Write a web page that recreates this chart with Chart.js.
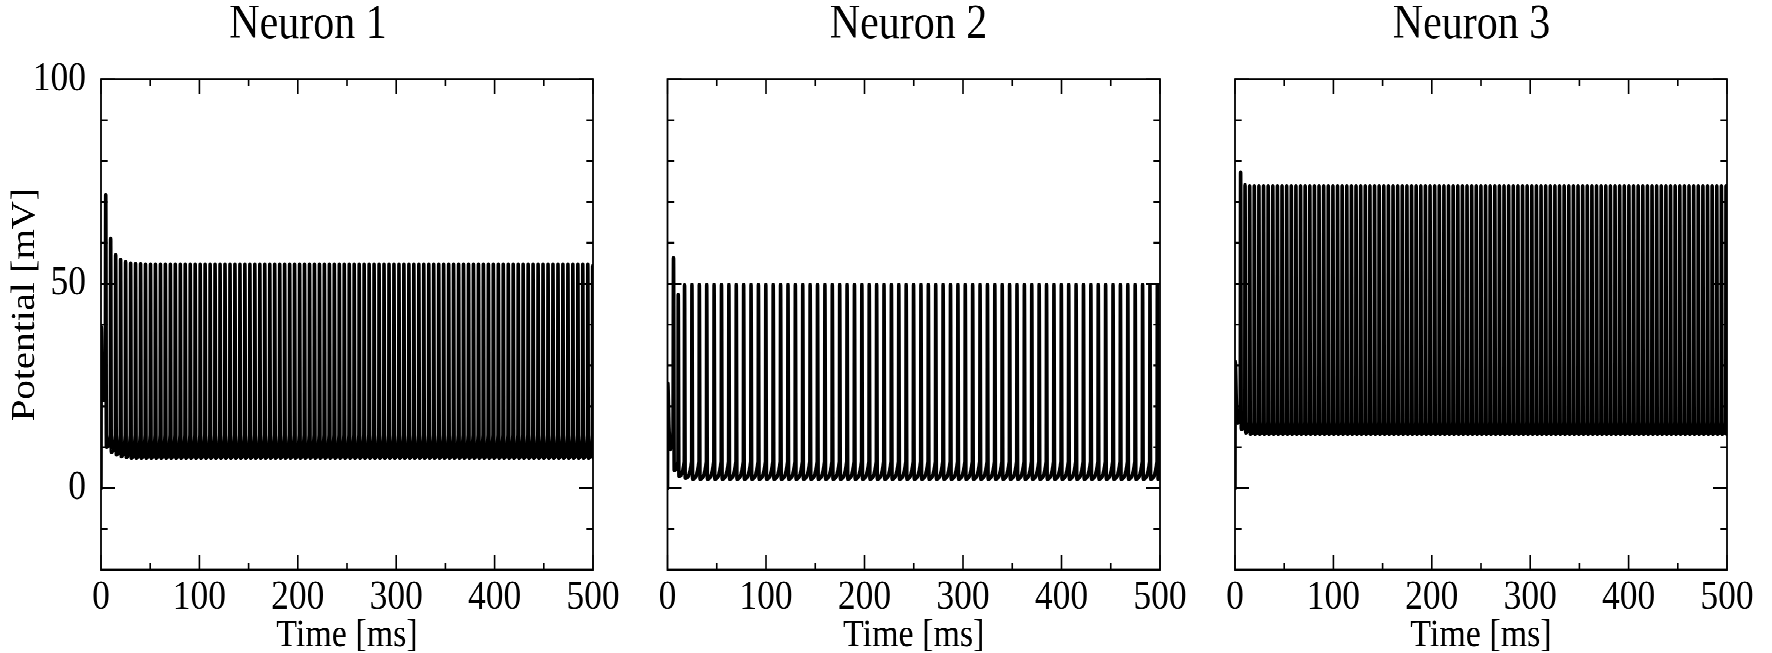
<!DOCTYPE html>
<html>
<head>
<meta charset="utf-8">
<script src="https://cdn.jsdelivr.net/npm/chart.js@4.4.0/dist/chart.umd.min.js"></script>
<style>
  html, body { margin: 0; padding: 0; background: #fff; overflow: hidden; }
  /* the original figure is slightly stretched vertically */
  #stage { position: absolute; left: 0; top: 0; width: 1772px; height: 568px; transform: scaleY(1.1496); transform-origin: 0 0; }
  #stage canvas { position: absolute; top: 0; }
</style>
</head>
<body>
<div id="stage">
  <canvas id="neuron1" width="630" height="568" style="left:0px"></canvas>
  <canvas id="neuron2" width="567" height="568" style="left:630px"></canvas>
  <canvas id="neuron3" width="575" height="568" style="left:1197px"></canvas>
</div>
<script>
// tick labels and minor ticks
const timeTicks = [0, 100, 200, 300, 400, 500];
const timeMinorTicks = [50, 150, 250, 350, 450];
const potentialTicks = [0, 50, 100];
const potentialMinorTicks = [-10, 10, 20, 30, 40, 60, 70, 80, 90];

// Neuron 1: start of trace, then spike times [ms], peaks and troughs [mV]
const n1StartTime = [0, 0.3, 1.2, 2.3, 3.6, 4.4];
const n1StartPotential = [0, 39.4, 26, 21.5, 24, 30];
const n1Times = [
  4.8, 9.8, 14.9, 19.9, 25.0, 30.1, 35.1, 40.2, 45.2, 50.3,
  55.3, 60.4, 65.4, 70.5, 75.5, 80.6, 85.6, 90.7, 95.7, 100.8,
  105.8, 110.9, 115.9, 121.0, 126.0, 131.1, 136.1, 141.2, 146.2, 151.3,
  156.3, 161.4, 166.4, 171.5, 176.5, 181.6, 186.6, 191.7, 196.7, 201.8,
  206.8, 211.9, 216.9, 222.0, 227.0, 232.1, 237.1, 242.2, 247.2, 252.3,
  257.3, 262.4, 267.4, 272.5, 277.5, 282.6, 287.6, 292.7, 297.7, 302.8,
  307.8, 312.9, 317.9, 323.0, 328.0, 333.1, 338.1, 343.2, 348.2, 353.3,
  358.3, 363.4, 368.4, 373.5, 378.5, 383.6, 388.6, 393.7, 398.7, 403.8,
  408.8, 413.9, 418.9, 424.0, 429.0, 434.1, 439.1, 444.2, 449.2, 454.3,
  459.3, 464.4, 469.4, 474.5, 479.5, 484.6, 489.6, 494.7, 499.7
];
const n1Peaks = [
  71.7, 61.0, 57.0, 55.9, 55.3, 55.0, 54.9, 54.8, 54.7, 54.7,
  54.7, 54.7, 54.7, 54.7, 54.7, 54.7, 54.7, 54.7, 54.7, 54.7,
  54.7, 54.7, 54.7, 54.7, 54.7, 54.7, 54.7, 54.7, 54.7, 54.7,
  54.7, 54.7, 54.7, 54.7, 54.7, 54.7, 54.7, 54.7, 54.7, 54.7,
  54.7, 54.7, 54.7, 54.7, 54.7, 54.7, 54.7, 54.7, 54.7, 54.7,
  54.7, 54.7, 54.7, 54.7, 54.7, 54.7, 54.7, 54.7, 54.7, 54.7,
  54.7, 54.7, 54.7, 54.7, 54.7, 54.7, 54.7, 54.7, 54.7, 54.7,
  54.7, 54.7, 54.7, 54.7, 54.7, 54.7, 54.7, 54.7, 54.7, 54.7,
  54.7, 54.7, 54.7, 54.7, 54.7, 54.7, 54.7, 54.7, 54.7, 54.7,
  54.7, 54.7, 54.7, 54.7, 54.7, 54.7, 54.7, 54.7, 54.3
];
const n1Troughs = [
  10.1, 8.9, 8.2, 7.8, 7.6, 7.4, 7.4, 7.4, 7.4, 7.4,
  7.4, 7.4, 7.4, 7.4, 7.4, 7.4, 7.4, 7.4, 7.4, 7.4,
  7.4, 7.4, 7.4, 7.4, 7.4, 7.4, 7.4, 7.4, 7.4, 7.4,
  7.4, 7.4, 7.4, 7.4, 7.4, 7.4, 7.4, 7.4, 7.4, 7.4,
  7.4, 7.4, 7.4, 7.4, 7.4, 7.4, 7.4, 7.4, 7.4, 7.4,
  7.4, 7.4, 7.4, 7.4, 7.4, 7.4, 7.4, 7.4, 7.4, 7.4,
  7.4, 7.4, 7.4, 7.4, 7.4, 7.4, 7.4, 7.4, 7.4, 7.4,
  7.4, 7.4, 7.4, 7.4, 7.4, 7.4, 7.4, 7.4, 7.4, 7.4,
  7.4, 7.4, 7.4, 7.4, 7.4, 7.4, 7.4, 7.4, 7.4, 7.4,
  7.4, 7.4, 7.4, 7.4, 7.4, 7.4, 7.4, 7.4, 7.4
];
const n1Threshold = 13.0;

// Neuron 2
const n2StartTime = [0, 0.3, 1.5, 2.8, 4.5, 5.6];
const n2StartPotential = [0, 25.6, 15, 9.5, 11, 14];
const n2Times = [
  6.1, 10.9, 17.3, 24.8, 32.3, 39.8, 47.3, 54.8, 62.3, 69.8,
  77.3, 84.8, 92.3, 99.8, 107.3, 114.8, 122.3, 129.8, 137.3, 144.8,
  152.3, 159.8, 167.3, 174.8, 182.3, 189.8, 197.3, 204.8, 212.3, 219.8,
  227.3, 234.8, 242.3, 249.8, 257.3, 264.8, 272.3, 279.8, 287.3, 294.8,
  302.3, 309.8, 317.3, 324.8, 332.3, 339.8, 347.3, 354.8, 362.3, 369.8,
  377.3, 384.8, 392.3, 399.8, 407.3, 414.8, 422.3, 429.8, 437.3, 444.8,
  452.3, 459.8, 467.3, 474.8, 482.3, 489.8, 497.3
];
const n2Peaks = [
  56.3, 47.3, 49.6, 49.7, 49.7, 49.7, 49.7, 49.7, 49.7, 49.7,
  49.7, 49.7, 49.7, 49.7, 49.7, 49.7, 49.7, 49.7, 49.7, 49.7,
  49.7, 49.7, 49.7, 49.7, 49.7, 49.7, 49.7, 49.7, 49.7, 49.7,
  49.7, 49.7, 49.7, 49.7, 49.7, 49.7, 49.7, 49.7, 49.7, 49.7,
  49.7, 49.7, 49.7, 49.7, 49.7, 49.7, 49.7, 49.7, 49.7, 49.7,
  49.7, 49.7, 49.7, 49.7, 49.7, 49.7, 49.7, 49.7, 49.7, 49.7,
  49.7, 49.7, 49.7, 49.7, 49.7, 49.7, 49.7
];
const n2Troughs = [
  4.4, 3.0, 2.5, 2.3, 2.3, 2.3, 2.3, 2.3, 2.3, 2.3,
  2.3, 2.3, 2.3, 2.3, 2.3, 2.3, 2.3, 2.3, 2.3, 2.3,
  2.3, 2.3, 2.3, 2.3, 2.3, 2.3, 2.3, 2.3, 2.3, 2.3,
  2.3, 2.3, 2.3, 2.3, 2.3, 2.3, 2.3, 2.3, 2.3, 2.3,
  2.3, 2.3, 2.3, 2.3, 2.3, 2.3, 2.3, 2.3, 2.3, 2.3,
  2.3, 2.3, 2.3, 2.3, 2.3, 2.3, 2.3, 2.3, 2.3, 2.3,
  2.3, 2.3, 2.3, 2.3, 2.3, 2.3, 2.3
];
const n2Threshold = 6.5;

// Neuron 3
const n3StartTime = [0, 0.2, 1.5, 3.0, 4.5, 5.3];
const n3StartPotential = [0, 30.9, 20, 16, 17, 19];
const n3Times = [
  5.7, 10.2, 14.9, 19.6, 24.3, 29.0, 33.7, 38.4, 43.1, 47.8,
  52.5, 57.2, 61.9, 66.6, 71.3, 76.0, 80.7, 85.4, 90.1, 94.8,
  99.5, 104.2, 108.9, 113.6, 118.3, 123.0, 127.7, 132.4, 137.1, 141.8,
  146.5, 151.2, 155.9, 160.6, 165.3, 170.0, 174.7, 179.4, 184.1, 188.8,
  193.5, 198.2, 202.9, 207.6, 212.3, 217.0, 221.7, 226.4, 231.1, 235.8,
  240.5, 245.2, 249.9, 254.6, 259.3, 264.0, 268.7, 273.4, 278.1, 282.8,
  287.5, 292.2, 296.9, 301.6, 306.3, 311.0, 315.7, 320.4, 325.1, 329.8,
  334.5, 339.2, 343.9, 348.6, 353.3, 358.0, 362.7, 367.4, 372.1, 376.8,
  381.5, 386.2, 390.9, 395.6, 400.3, 405.0, 409.7, 414.4, 419.1, 423.8,
  428.5, 433.2, 437.9, 442.6, 447.3, 452.0, 456.7, 461.4, 466.1, 470.8,
  475.5, 480.2, 484.9, 489.6, 494.3, 499.0
];
const n3Peaks = [
  77.2, 74.1, 73.9, 73.9, 73.9, 73.9, 73.9, 73.9, 73.9, 73.9,
  73.9, 73.9, 73.9, 73.9, 73.9, 73.9, 73.9, 73.9, 73.9, 73.9,
  73.9, 73.9, 73.9, 73.9, 73.9, 73.9, 73.9, 73.9, 73.9, 73.9,
  73.9, 73.9, 73.9, 73.9, 73.9, 73.9, 73.9, 73.9, 73.9, 73.9,
  73.9, 73.9, 73.9, 73.9, 73.9, 73.9, 73.9, 73.9, 73.9, 73.9,
  73.9, 73.9, 73.9, 73.9, 73.9, 73.9, 73.9, 73.9, 73.9, 73.9,
  73.9, 73.9, 73.9, 73.9, 73.9, 73.9, 73.9, 73.9, 73.9, 73.9,
  73.9, 73.9, 73.9, 73.9, 73.9, 73.9, 73.9, 73.9, 73.9, 73.9,
  73.9, 73.9, 73.9, 73.9, 73.9, 73.9, 73.9, 73.9, 73.9, 73.9,
  73.9, 73.9, 73.9, 73.9, 73.9, 73.9, 73.9, 73.9, 73.9, 73.9,
  73.9, 73.9, 73.9, 73.9, 73.9, 73.9
];
const n3Troughs = [
  14.5, 13.6, 13.3, 13.3, 13.3, 13.3, 13.3, 13.3, 13.3, 13.3,
  13.3, 13.3, 13.3, 13.3, 13.3, 13.3, 13.3, 13.3, 13.3, 13.3,
  13.3, 13.3, 13.3, 13.3, 13.3, 13.3, 13.3, 13.3, 13.3, 13.3,
  13.3, 13.3, 13.3, 13.3, 13.3, 13.3, 13.3, 13.3, 13.3, 13.3,
  13.3, 13.3, 13.3, 13.3, 13.3, 13.3, 13.3, 13.3, 13.3, 13.3,
  13.3, 13.3, 13.3, 13.3, 13.3, 13.3, 13.3, 13.3, 13.3, 13.3,
  13.3, 13.3, 13.3, 13.3, 13.3, 13.3, 13.3, 13.3, 13.3, 13.3,
  13.3, 13.3, 13.3, 13.3, 13.3, 13.3, 13.3, 13.3, 13.3, 13.3,
  13.3, 13.3, 13.3, 13.3, 13.3, 13.3, 13.3, 13.3, 13.3, 13.3,
  13.3, 13.3, 13.3, 13.3, 13.3, 13.3, 13.3, 13.3, 13.3, 13.3,
  13.3, 13.3, 13.3, 13.3, 13.3, 13.3
];
const n3Threshold = 16.0;

const FONT = "'Liberation Serif', 'Times New Roman', serif";
const RISE = 0.3;    // ms from ramp end to spike peak
const FALL = 0.7;    // ms from spike peak to trough
const PLOT_TOP = 69;
const X_AXIS_HEIGHT = 72.3;

// spike train -> line points (ramp end, peak, trough for every spike)
function buildTrace(startT, startV, times, peaks, troughs, threshold) {
    const pts = startT.map((t, i) => ({ x: t, y: startV[i] }));
    times.forEach((t, i) => {
        if (i > 0) pts.push({ x: t - RISE, y: threshold });
        pts.push({ x: t, y: peaks[i] });
        pts.push({ x: t + FALL, y: troughs[i] });
    });
    return pts;
}

// box, inward ticks on all four sides, panel title, y title
const frame = {
    id: "frame",
    afterDraw(chart, args, opts) {
        const { ctx, chartArea: a, scales: { x, y } } = chart;
        ctx.save();
        ctx.strokeStyle = "#000";
        ctx.lineWidth = 1.6;
        ctx.beginPath();
        const tickX = (v, len) => {
            const px = x.getPixelForValue(v);
            ctx.moveTo(px, a.bottom); ctx.lineTo(px, a.bottom - len);
            ctx.moveTo(px, a.top); ctx.lineTo(px, a.top + len);
        };
        const tickY = (v, len) => {
            const py = y.getPixelForValue(v);
            ctx.moveTo(a.left, py); ctx.lineTo(a.left + len, py);
            ctx.moveTo(a.right, py); ctx.lineTo(a.right - len, py);
        };
        timeTicks.forEach(v => tickX(v, 13));
        timeMinorTicks.forEach(v => tickX(v, 5.8));
        potentialTicks.forEach(v => tickY(v, 14));
        potentialMinorTicks.forEach(v => tickY(v, 6.7));
        ctx.stroke();
        ctx.lineWidth = 1.8;
        ctx.strokeRect(a.left, a.top, a.right - a.left, a.bottom - a.top);

        ctx.fillStyle = "#000";
        ctx.textAlign = "center";
        ctx.textBaseline = "middle";
        ctx.font = "42px " + FONT;
        ctx.fillText(opts.title, opts.titleX, 22);
        if (opts.yTitle) {
            ctx.translate(opts.yTitleX, opts.yTitleY);
            ctx.rotate(-Math.PI / 2);
            ctx.font = "34px " + FONT;
            ctx.fillText(opts.yTitle, 0, 0);
        }
        ctx.restore();
    }
};

function makeChart(id, trace, panel) {
    return new Chart(document.getElementById(id), {
        type: "line",
        data: {
            datasets: [{
                data: trace,
                borderColor: "#000",
                borderWidth: 3.6,
                pointRadius: 0,
                fill: false,
                cubicInterpolationMode: "monotone",
                borderJoinStyle: "round",
                borderCapStyle: "round"
            }]
        },
        options: {
            responsive: false,
            devicePixelRatio: 2,
            animation: false,
            events: [],
            layout: { padding: { top: PLOT_TOP, right: panel.right, bottom: 0, left: 0 } },
            plugins: {
                legend: { display: false },
                tooltip: { enabled: false },
                frame: panel.frame
            },
            scales: {
                x: {
                    type: "linear",
                    min: 0,
                    max: 500,
                    afterBuildTicks: s => { s.ticks = timeTicks.map(v => ({ value: v })); },
                    afterFit: s => { s.height = X_AXIS_HEIGHT; },
                    grid: { display: false, drawTicks: false },
                    border: { display: false },
                    ticks: {
                        color: "#000",
                        font: { family: FONT, size: 35.5, lineHeight: 1.2 },
                        padding: 3,
                        maxRotation: 0,
                        autoSkip: false
                    },
                    title: {
                        display: true,
                        text: "Time [ms]",
                        color: "#000",
                        font: { family: FONT, size: 34, lineHeight: 1 },
                        padding: { top: 0, bottom: -2 }
                    }
                },
                y: {
                    type: "linear",
                    min: -20,
                    max: 100,
                    afterBuildTicks: s => { s.ticks = potentialTicks.map(v => ({ value: v })); },
                    afterFit: s => { s.width = panel.yWidth; },
                    grid: { display: false, drawTicks: false },
                    border: { display: false },
                    ticks: {
                        display: panel.showY,
                        color: "#000",
                        font: { family: FONT, size: 35.5 },
                        padding: 15
                    }
                }
            }
        },
        plugins: [frame]
    });
}

makeChart("neuron1",
    buildTrace(n1StartTime, n1StartPotential, n1Times, n1Peaks, n1Troughs, n1Threshold),
    { yWidth: 101, right: 37, showY: true,
      frame: { title: "Neuron 1", titleX: 308, yTitle: "Potential [mV]", yTitleX: 25, yTitleY: 265 } });

makeChart("neuron2",
    buildTrace(n2StartTime, n2StartPotential, n2Times, n2Peaks, n2Troughs, n2Threshold),
    { yWidth: 37.5, right: 37, showY: false,
      frame: { title: "Neuron 2", titleX: 278.5 } });

makeChart("neuron3",
    buildTrace(n3StartTime, n3StartPotential, n3Times, n3Peaks, n3Troughs, n3Threshold),
    { yWidth: 38, right: 45, showY: false,
      frame: { title: "Neuron 3", titleX: 274.5 } });
</script>
</body>
</html>
